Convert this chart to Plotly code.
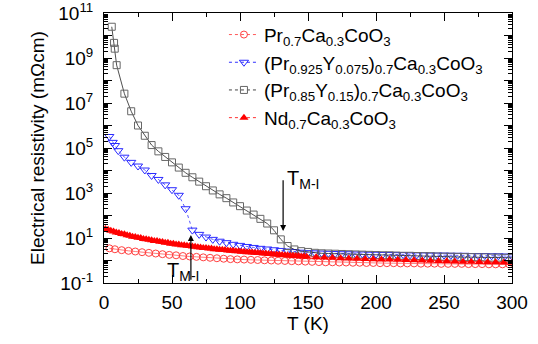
import plotly.graph_objects as go

# ---------------- data ----------------
# Pr0.7Ca0.3CoO3 (red open circles)
T_pr = [4, 8, 13, 18, 23, 28, 33, 38, 43, 48, 53, 58, 63, 68, 73, 78, 83, 88, 93, 98,
        103, 108, 113, 118, 123, 128, 133, 138, 143, 148, 153, 158, 163, 168, 173, 178, 183, 188, 193, 198,
        203, 208, 213, 218, 223, 228, 233, 238, 243, 248, 253, 258, 263, 268, 273, 278, 283, 288, 293, 298]
rho_pr = [3.47, 3.16, 2.88, 2.69, 2.51, 2.34, 2.19, 2.04, 1.91, 1.78, 1.70, 1.58, 1.51, 1.45, 1.38, 1.32, 1.26, 1.20, 1.15, 1.12,
          1.10, 1.07, 1.05, 1.02, 1.00, 0.977, 0.955, 0.933, 0.912, 0.891, 0.871, 0.851, 0.832, 0.832, 0.813, 0.813, 0.794, 0.794, 0.776, 0.776,
          0.759, 0.759, 0.759, 0.741, 0.741, 0.741, 0.724, 0.724, 0.724, 0.708, 0.708, 0.708, 0.708, 0.692, 0.692, 0.692, 0.676, 0.676, 0.676, 0.676]

# (Pr0.925Y0.075)0.7Ca0.3CoO3 (blue open down-triangles)
T_y075 = [3.9, 6.4, 8.1, 10.5, 15, 20, 25, 30, 35, 40, 45, 50, 55, 60, 65, 70, 75, 80, 85, 90,
          95, 100, 105, 110, 115, 120, 125, 130, 135, 140, 145, 150, 155, 160, 165, 170, 175, 180, 185, 190,
          195, 200, 205, 210, 215, 220, 225, 230, 235, 240, 245, 250, 255, 260, 265, 270, 275, 280, 285, 290,
          295, 300]
rho_y075 = [3.24e5, 1.78e5, 1.29e5, 7.6e4, 3.9e4, 2.3e4, 1.58e4, 1.05e4, 6.0e3, 4.0e3, 2.3e3, 1.4e3, 7.9e2, 2.0e2, 22.4, 14.5, 11.0, 8.7, 7.2, 6.2,
            5.25, 4.7, 4.2, 3.8, 3.47, 3.24, 3.0, 2.8, 2.63, 2.5, 2.34, 2.24, 2.19, 2.14, 2.09, 2.04, 2.0, 2.0, 1.95, 1.95,
            1.9, 1.9, 1.86, 1.86, 1.82, 1.82, 1.78, 1.78, 1.78, 1.74, 1.74, 1.74, 1.7, 1.7, 1.7, 1.66, 1.66, 1.66, 1.62, 1.62,
            1.58, 1.55]

# (Pr0.85Y0.15)0.7Ca0.3CoO3 (grey open squares)
T_y15 = [5.7, 7.4, 7.9, 9.3, 15, 20, 25, 30, 35, 40, 45, 50, 55, 60, 65, 70, 75, 80, 85, 90,
         95, 100, 105, 110, 115, 120, 125, 130, 135, 140, 145, 150, 155, 160, 165, 170, 175, 180, 185, 190,
         195, 200, 205, 210, 215, 220, 225, 230, 235, 240, 245, 250, 255, 260, 265, 270, 275, 280, 285, 290,
         295, 300]
rho_y15 = [2.45e10, 4.7e9, 2.6e9, 4.8e8, 2.6e7, 4.3e6, 1.0e6, 3.5e5, 1.35e5, 7.1e4, 4.0e4, 2.3e4, 1.35e4, 7.9e3, 5.0e3, 3.2e3, 2.0e3, 1.3e3, 870, 590,
           380, 260, 166, 110, 71, 44, 22, 8.7, 4.4, 3.1, 2.6, 2.4, 2.2, 2.09, 2.04, 2.0, 1.95, 1.9, 1.86, 1.82,
           1.78, 1.74, 1.70, 1.70, 1.66, 1.62, 1.62, 1.58, 1.55, 1.55, 1.51, 1.48, 1.48, 1.45, 1.41, 1.41, 1.38, 1.38, 1.35, 1.35,
           1.32, 1.32]

# Nd0.7Ca0.3CoO3 (red filled up-triangles)
T_nd = [1, 3, 5, 7, 9, 11, 13, 15, 17, 19, 21, 23, 25, 27, 29, 31, 33, 35, 37, 39,
        41, 43, 45, 47, 49, 51, 53, 55, 57, 59, 61, 63, 65, 67, 69, 71, 73, 75, 77, 79,
        81, 83, 85, 87, 89, 91, 93, 95, 97, 99, 101, 103, 105, 107, 109, 111, 113, 115, 117, 119,
        121, 123, 125, 127, 129, 131, 133, 135, 137, 139, 141, 143, 145, 147, 149,
        156, 162, 168, 174, 180, 186, 192, 198, 204, 210, 216, 222, 228, 234, 240, 246, 252, 258, 264, 270,
        276, 282, 288, 294, 300]
rho_nd = [25.1, 23.4, 20.9, 19.6, 17.4, 16.6, 15.1, 14.5, 13.2, 12.6, 11.5, 11.2, 10.2, 10.0, 9.1, 8.9, 8.3, 8.0, 7.4, 7.3,
          6.8, 6.7, 6.2, 6.1, 5.6, 5.6, 5.2, 5.1, 4.8, 4.8, 4.5, 4.4, 4.2, 4.1, 3.9, 3.8, 3.6, 3.62, 3.4, 3.4,
          3.2, 3.15, 3.0, 3.0, 2.9, 2.8, 2.7, 2.68, 2.57, 2.55, 2.45, 2.44, 2.34, 2.33, 2.24, 2.23, 2.14, 2.13, 2.04, 2.04,
          1.95, 1.95, 1.86, 1.86, 1.78, 1.77, 1.70, 1.69, 1.62, 1.64, 1.58, 1.57, 1.51, 1.50, 1.48,
          1.41, 1.35, 1.32, 1.26, 1.23, 1.20, 1.17, 1.15, 1.12, 1.10, 1.07, 1.05, 1.02, 1.0, 0.98, 0.955, 0.933, 0.912, 0.891, 0.871,
          0.851, 0.832, 0.832, 0.813, 0.794]

names = ["Pr<sub>0.7</sub>Ca<sub>0.3</sub>CoO<sub>3</sub>",
         "(Pr<sub>0.925</sub>Y<sub>0.075</sub>)<sub>0.7</sub>Ca<sub>0.3</sub>CoO<sub>3</sub>",
         "(Pr<sub>0.85</sub>Y<sub>0.15</sub>)<sub>0.7</sub>Ca<sub>0.3</sub>CoO<sub>3</sub>",
         "Nd<sub>0.7</sub>Ca<sub>0.3</sub>CoO<sub>3</sub>"]

x_ticks = [0, 50, 100, 150, 200, 250, 300]
y_exps = list(range(-1, 12))
y_tickvals = [10.0 ** e for e in y_exps]
y_ticktext = [("10<sup>%d</sup>" % e) if (e % 2 != 0) else "" for e in y_exps]

FONT = "Liberation Sans, Arial, Helvetica, sans-serif"
FS = 19

series = [
    (T_pr, rho_pr, names[0], "#ff5a5a", "solid", dict(symbol="circle-open", size=7, color="#ff4040", line=dict(width=1))),
    (T_y075, rho_y075, names[1], "#3030ff", "dot", dict(symbol="triangle-down-open", size=8, color="#2a2aff", line=dict(width=1))),
    (T_y15, rho_y15, names[2], "#222222", "solid", dict(symbol="square-open", size=7, color="#666666", line=dict(width=1))),
    (T_nd, rho_nd, names[3], "#ff2020", "solid", dict(symbol="triangle-up", size=8, color="#ff0000")),
]
leg_line_colors = ["#ff5a5a", "#3030ff", "#444444", "#ff3030"]

fig = go.Figure()
for (tx, ry, nm, lc, dash, mk) in series:
    fig.add_trace(go.Scatter(x=tx, y=ry, name=nm, mode="lines+markers", showlegend=False,
                             line=dict(color=lc, width=0.8, dash=dash), marker=mk))
# legend entries (dotted samples as in the original)
for (tx, ry, nm, lc, dash, mk), llc in zip(series, leg_line_colors):
    fig.add_trace(go.Scatter(x=[None], y=[None], name=nm, mode="lines+markers", showlegend=True,
                             line=dict(color=llc, width=1, dash="dot"), marker=mk))

# arrows and labels
fig.add_annotation(x=63.9, y=1.13, ax=63.9, ay=-0.92, xref="x", yref="y", axref="x", ayref="y",
                   text="", showarrow=True, arrowhead=2, arrowsize=1, arrowwidth=1.2, arrowcolor="black")
fig.add_annotation(x=131.7, y=1.31, ax=131.7, ay=3.63, xref="x", yref="y", axref="x", ayref="y",
                   text="", showarrow=True, arrowhead=2, arrowsize=1, arrowwidth=1.2, arrowcolor="black")
fig.add_annotation(x=57.8, y=-0.5, xref="x", yref="y", text="T<sub>M-I</sub>", showarrow=False,
                   font=dict(size=20, color="black", family=FONT))
fig.add_annotation(x=146, y=3.6, xref="x", yref="y", text="T<sub>M-I</sub>", showarrow=False,
                   font=dict(size=20, color="black", family=FONT))

fig.update_layout(
    width=538, height=344,
    margin=dict(l=104, r=26, t=13, b=61, autoexpand=False),
    paper_bgcolor="white", plot_bgcolor="white",
    font=dict(family=FONT, size=FS, color="black"),
    showlegend=True,
    legend=dict(x=0.294, y=0.99, xanchor="left", yanchor="top", bgcolor="rgba(0,0,0,0)",
                borderwidth=0, font=dict(size=FS, family=FONT), tracegroupgap=0, itemwidth=30),
)
fig.update_xaxes(range=[0, 300], tickvals=x_ticks, ticks="inside", ticklen=8, tickwidth=1,
                 tickcolor="black", showline=True, linecolor="black", linewidth=1, mirror="allticks",
                 showgrid=False, zeroline=False, ticklabelstandoff=2, automargin=False,
                 ticklabeloverflow="allow", tickfont=dict(size=FS, family=FONT),
                 minor=dict(ticks="inside", ticklen=4, tickwidth=1, tickcolor="black", dtick=25, showgrid=False),
                 title=dict(text="T (K)", font=dict(size=FS, family=FONT), standoff=2))
fig.update_yaxes(type="log", range=[-1, 11], tickvals=y_tickvals, ticktext=y_ticktext,
                 ticks="inside", ticklen=8, tickwidth=1, tickcolor="black", showline=True,
                 linecolor="black", linewidth=1, mirror="allticks", showgrid=False, zeroline=False,
                 ticklabelstandoff=6, automargin=False, ticklabeloverflow="allow",
                 tickfont=dict(size=FS, family=FONT),
                 minor=dict(ticks="inside", ticklen=4, tickwidth=1, tickcolor="black", dtick="D1", showgrid=False),
                 title=dict(text="Electrical resistivity (mΩcm)", font=dict(size=FS, family=FONT), standoff=8))

fig.write_html("out.html", config={"displayModeBar": False},
               post_script="document.body.style.margin='0px';document.body.style.padding='0px';")
